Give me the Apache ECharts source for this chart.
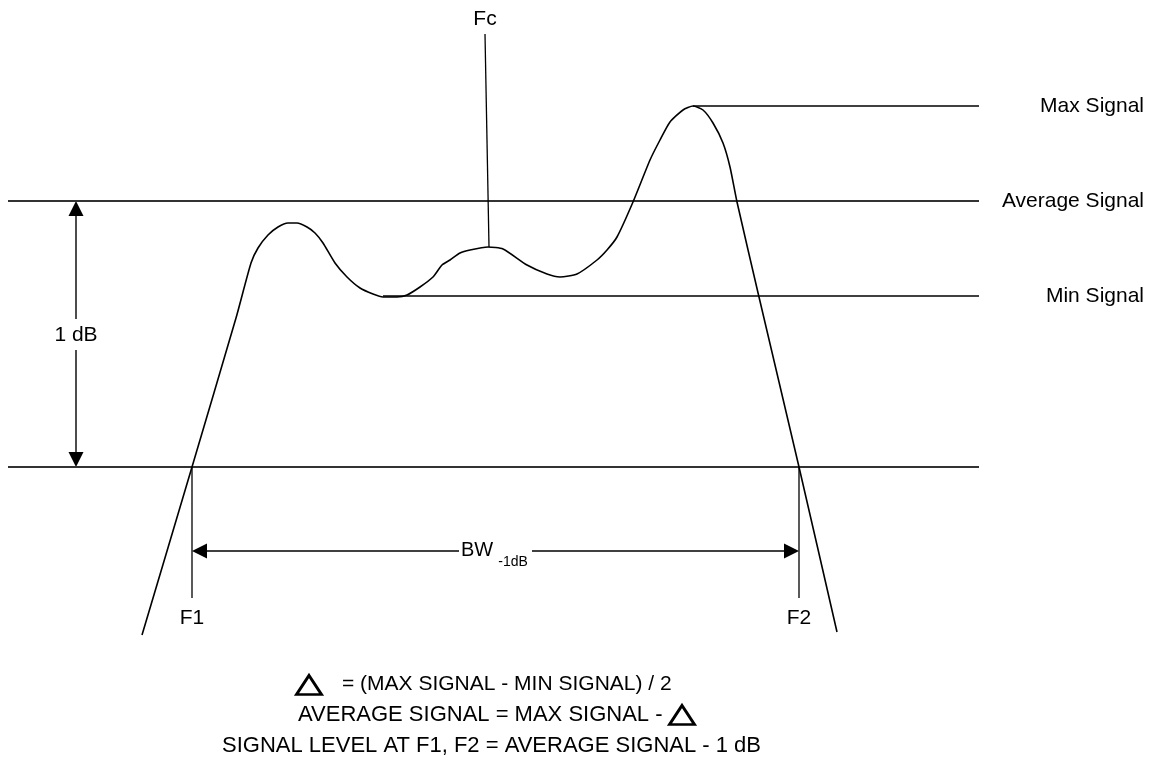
<!DOCTYPE html>
<html>
<head>
<meta charset="utf-8">
<script src="https://cdn.jsdelivr.net/npm/echarts@6/dist/echarts.min.js"></script>
<style>
  html, body { margin: 0; background: #fff; }
  #chart { width: 1154px; height: 759px; }
</style>
</head>
<body>
<div id="chart"></div>
<script>
// 通带响应曲线（示意单位：横向 = 频率，纵向 = 电平，向下递减）
const curveFreq = [142, 192, 236, 251, 258, 268, 278, 288, 297, 307, 315, 323, 335, 347, 360, 373, 383, 397, 407, 420, 433, 442, 450, 460, 470, 488, 503, 527, 547, 560, 577, 597, 607, 617, 633, 650, 660, 670, 683, 693, 703, 713, 723, 730, 737, 759, 799, 837];
const curveLevel = [635, 467, 318, 263, 248, 235, 227, 223, 223, 227, 233, 243, 263, 277, 288, 294, 297, 297, 295, 287, 277, 265, 260, 253, 250, 247, 249, 265, 274, 277, 274, 260, 250, 237, 202, 160, 140, 122, 110, 106, 110, 123, 143, 167, 202, 297, 467, 632];

// 参考电平
const refNames = ['Max Signal', 'Average Signal', 'Min Signal'];
const refLevels = [106, 201, 296];
const refStart = [693, 8, 383];
const lowLevel = 467; // Average - 1 dB
const lineStart = 8;
const lineEnd = 979;

// F1 / F2 / Fc
const edgeNames = ['F1', 'F2'];
const edgeFreqs = [192, 799];
const edgeBottom = 598;
const fcFreq = [485, 489];
const fcLevel = [34, 247];

// 标注
const dbArrowX = 76;
const dbGap = [319, 350];
const bwArrowY = 551;
const bwGap = [459, 532];
const formulaLines = [
  '= (MAX SIGNAL - MIN SIGNAL) / 2',
  'AVERAGE SIGNAL = MAX SIGNAL -',
  'SIGNAL LEVEL AT F1, F2 = AVERAGE SIGNAL - 1 dB'
];
const formulaX = [342, 298, 222];
const formulaY = [684, 715, 746];
const formulaSize = [21, 22, 22];
const deltaPos = [[309, 685], [682, 715]];

const FONT = '"Liberation Sans", Arial, sans-serif';
const HEAD = 15; // 箭头长度

const seg = (name, pts, width, color) => ({
  name,
  type: 'line',
  data: pts,
  symbol: 'none',
  silent: true,
  lineStyle: { width, color }
});

const textItem = (x, y, text, extra) => ({
  value: [x, y],
  label: Object.assign({ formatter: text }, extra || {})
});

const chart = echarts.init(document.getElementById('chart'));

const series = [];

// 参考线
refLevels.forEach((lv, i) => {
  const avg = refNames[i] === 'Average Signal';
  series.push(seg(refNames[i], [[refStart[i], lv], [lineEnd, lv]], avg ? 1.8 : 1.4, avg ? '#333' : '#000'));
});
series.push(seg('low', [[lineStart, lowLevel], [lineEnd, lowLevel]], 1.8, '#333'));

// F1, F2, Fc 竖线
edgeFreqs.forEach((f, i) => {
  series.push(seg(edgeNames[i], [[f, lowLevel], [f, edgeBottom]], 1.3, '#000'));
});
series.push(seg('Fc', [[fcFreq[0], fcLevel[0]], [fcFreq[1], fcLevel[1]]], 1.3, '#000'));

// 1 dB 箭头线
const avgLevel = refLevels[1];
series.push(seg('db1', [[dbArrowX, avgLevel + HEAD / 2], [dbArrowX, dbGap[0]]], 1.4, '#000'));
series.push(seg('db2', [[dbArrowX, dbGap[1]], [dbArrowX, lowLevel - HEAD / 2]], 1.4, '#000'));

// BW 箭头线
series.push(seg('bw1', [[edgeFreqs[0] + HEAD / 2, bwArrowY], [bwGap[0], bwArrowY]], 1.4, '#000'));
series.push(seg('bw2', [[bwGap[1], bwArrowY], [edgeFreqs[1] - HEAD / 2, bwArrowY]], 1.4, '#000'));

// 响应曲线
series.push({
  name: 'response',
  type: 'line',
  data: curveFreq.map((f, i) => [f, curveLevel[i]]),
  symbol: 'none',
  smooth: 0.2,
  silent: true,
  lineStyle: { width: 1.6, color: '#000', join: 'round' }
});

// 箭头
series.push({
  name: 'heads',
  type: 'scatter',
  symbol: 'triangle',
  symbolSize: [15, HEAD],
  silent: true,
  itemStyle: { color: '#000', opacity: 1 },
  data: [
    { value: [dbArrowX, avgLevel + HEAD / 2], symbolRotate: 0 },
    { value: [dbArrowX, lowLevel - HEAD / 2], symbolRotate: 180 },
    { value: [edgeFreqs[0] + HEAD / 2, bwArrowY], symbolRotate: 90 },
    { value: [edgeFreqs[1] - HEAD / 2, bwArrowY], symbolRotate: -90 }
  ]
});

// 公式里的三角形
series.push({
  name: 'delta',
  type: 'scatter',
  symbol: 'triangle',
  symbolSize: [25, 19],
  silent: true,
  itemStyle: { color: '#fff', borderColor: '#000', borderWidth: 2.8, opacity: 1 },
  data: deltaPos
});

// 文字
const labels = [];
refNames.forEach((n, i) => labels.push(textItem(1144, refLevels[i], n, { align: 'right' })));
edgeNames.forEach((n, i) => labels.push(textItem(edgeFreqs[i], 618, n)));
labels.push(textItem(fcFreq[0], 19, 'Fc'));
labels.push(textItem(dbArrowX, 335, '1 dB'));
labels.push(textItem(477, 550, 'BW', { fontSize: 20 }));
labels.push(textItem(513, 562, '-1dB', { fontSize: 14 }));
formulaLines.forEach((t, i) => labels.push(textItem(formulaX[i], formulaY[i], t, { align: 'left', fontSize: formulaSize[i] })));

series.push({
  name: 'labels',
  type: 'scatter',
  symbolSize: 0,
  silent: true,
  itemStyle: { opacity: 1 },
  label: {
    show: true,
    position: 'inside',
    color: '#000',
    opacity: 1,
    fontFamily: FONT,
    fontSize: 21
  },
  data: labels
});

chart.setOption({
  animation: false,
  backgroundColor: '#fff',
  grid: { left: 0, right: 0, top: 0, bottom: 0 },
  xAxis: { type: 'value', min: 0, max: 1154, show: false },
  yAxis: { type: 'value', min: 0, max: 759, inverse: true, show: false },
  series
});
</script>
</body>
</html>
